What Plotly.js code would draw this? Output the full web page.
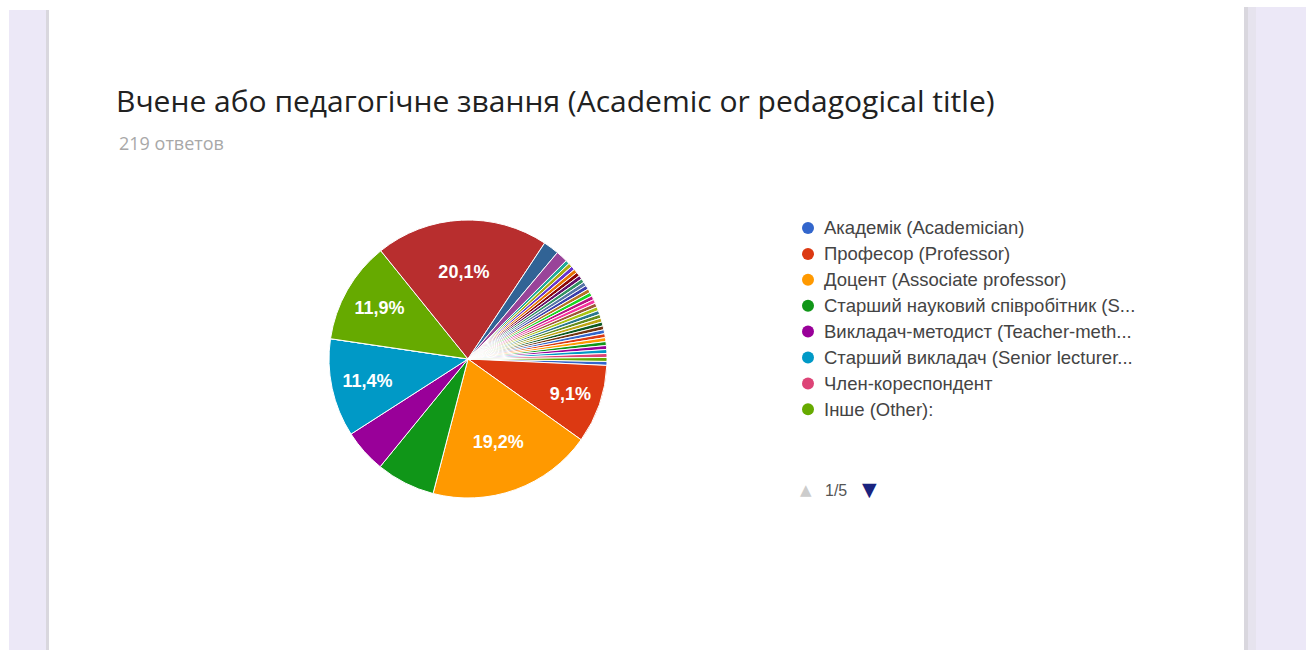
<!DOCTYPE html>
<html>
<head>
<meta charset="utf-8">
<script src="https://cdn.plot.ly/plotly-3.0.1.min.js"></script>
<style>
  html, body { margin: 0; padding: 0; background: #ffffff; }
  #chart { width: 1306px; height: 650px; }
</style>
</head>
<body>
<div id="chart"></div>
<script>
// ---------- DATA ----------
const chartTitle = "Вчене або педагогічне звання (Academic or pedagogical title)";
const responsesText = "219 ответов";

const categories = [
  "Академік (Academician)",
  "Професор (Professor)",
  "Доцент (Associate professor)",
  "Старший науковий співробітник (Senior researcher)",
  "Викладач-методист (Teacher-methodist)",
  "Старший викладач (Senior lecturer)",
  "Член-кореспондент",
  "Інше (Other):",
  "Інша відповідь 9",
  "Інша відповідь 10",
  "Інша відповідь 11",
  "Інша відповідь 12",
  "Інша відповідь 13",
  "Інша відповідь 14",
  "Інша відповідь 15",
  "Інша відповідь 16",
  "Інша відповідь 17",
  "Інша відповідь 18",
  "Інша відповідь 19",
  "Інша відповідь 20",
  "Інша відповідь 21",
  "Інша відповідь 22",
  "Інша відповідь 23",
  "Інша відповідь 24",
  "Інша відповідь 25",
  "Інша відповідь 26",
  "Інша відповідь 27",
  "Інша відповідь 28",
  "Інша відповідь 29",
  "Інша відповідь 30",
  "Інша відповідь 31",
  "Інша відповідь 32",
  "Інша відповідь 33",
  "Інша відповідь 34",
  "Інша відповідь 35",
  "Інша відповідь 36",
  "Інша відповідь 37",
  "Інша відповідь 38",
  "Інша відповідь 39"
];

const counts = [
  1, 20, 42, 15, 11, 25, 0, 26,
  44, 4, 3,
  1, 1, 1, 1, 1, 1, 1, 1, 1, 1,
  1, 1, 1, 1, 1, 1, 1, 1, 1, 1,
  1, 1, 1, 1, 1, 1, 1, 1
];

const sliceColors = [
  "#3366cc", "#dc3912", "#ff9900", "#109618", "#990099", "#0099c6", "#dd4477", "#66aa00",
  "#b82e2e", "#316395", "#994499", "#22aa99", "#aaaa11", "#6633cc", "#e67300", "#8b0707",
  "#651067", "#329262", "#5574a6", "#3b3eac", "#b77322", "#16d620", "#b91383", "#f4359e",
  "#9c5935", "#a9c413", "#2a778d", "#668d1c", "#bea413", "#0c5922", "#743411",
  "#3366cc", "#dc3912", "#ff9900", "#109618", "#990099", "#0099c6", "#dd4477", "#66aa00"
];

// legend (first page, truncated as displayed)
const legendLabels = [
  "Академік (Academician)",
  "Професор (Professor)",
  "Доцент (Associate professor)",
  "Старший науковий співробітник (S...",
  "Викладач-методист (Teacher-meth...",
  "Старший викладач (Senior lecturer...",
  "Член-кореспондент",
  "Інше (Other):"
];
const pagerText = "1/5";

// ---------- LAYOUT ----------
const W = 1306, H = 650;
const px = x => x / W;
const py = y => 1 - y / H;

const total = counts.reduce((a, b) => a + b, 0);
const templates = counts.map(v => (v / total >= 0.08 ? "%{percent:.1%}" : ""));

const cx = 468, cy = 359, r = 139;

const trace = {
  type: "pie",
  labels: categories,
  values: counts,
  sort: false,
  direction: "clockwise",
  rotation: 91,
  marker: { colors: sliceColors, line: { color: "#ffffff", width: 1 } },
  texttemplate: templates,
  textinfo: "text",
  textposition: "inside",
  insidetextorientation: "horizontal",
  textfont: { family: "Arial, Liberation Sans, sans-serif", size: 18, color: "#ffffff", weight: "bold" },
  hoverinfo: "label+value+percent",
  showlegend: false,
  domain: { x: [px(cx - r), px(cx + r)], y: [py(cy + r), py(cy - r)] }
};

const shapes = [
  // page background bands
  { type: "rect", xref: "paper", yref: "paper", x0: px(9), x1: px(47), y0: 0, y1: py(10), fillcolor: "#ece8f7", line: { width: 0 }, layer: "below" },
  { type: "rect", xref: "paper", yref: "paper", x0: px(46), x1: px(49), y0: 0, y1: py(10), fillcolor: "#d9d7de", line: { width: 0 }, layer: "below" },
  { type: "rect", xref: "paper", yref: "paper", x0: px(1250), x1: 1, y0: 0, y1: py(7), fillcolor: "#ece8f7", line: { width: 0 }, layer: "below" },
  { type: "rect", xref: "paper", yref: "paper", x0: px(1244), x1: px(1248), y0: 0, y1: py(7), fillcolor: "#d9d7de", line: { width: 0 }, layer: "below" },
  { type: "rect", xref: "paper", yref: "paper", x0: px(1248), x1: px(1256), y0: 0, y1: py(7), fillcolor: "#e6e3ee", line: { width: 0 }, layer: "below" }
];

const annotations = [
  { text: responsesText, xref: "paper", yref: "paper", x: px(117), y: py(143), xanchor: "left", yanchor: "middle",
    showarrow: false, font: { family: "Open Sans, Arial, sans-serif", size: 18, color: "#a8a8a8" } }
];

const legendX = 808, legendY0 = 228, legendStep = 25.9;
legendLabels.forEach((lab, i) => {
  const y = legendY0 + i * legendStep;
  shapes.push({ type: "circle", xref: "paper", yref: "paper", xsizemode: "pixel", ysizemode: "pixel",
    xanchor: px(legendX), yanchor: py(y), x0: -6, x1: 6, y0: -6, y1: 6,
    fillcolor: sliceColors[i], line: { width: 0 } });
  annotations.push({ text: lab, xref: "paper", yref: "paper", x: px(legendX + 14), y: py(y),
    xanchor: "left", yanchor: "middle", showarrow: false,
    font: { family: "Arial, Liberation Sans, sans-serif", size: 18.5, color: "#444444" } });
});

annotations.push(
  { text: "▲", xref: "paper", yref: "paper", x: px(806), y: py(490), xanchor: "center", yanchor: "middle",
    showarrow: false, font: { family: "DejaVu Sans, sans-serif", size: 15, color: "#cccccc" } },
  { text: pagerText, xref: "paper", yref: "paper", x: px(823), y: py(490), xanchor: "left", yanchor: "middle",
    showarrow: false, font: { family: "Arial, Liberation Sans, sans-serif", size: 16, color: "#555555" } },
  { text: "▼", xref: "paper", yref: "paper", x: px(869), y: py(489), xanchor: "center", yanchor: "middle",
    showarrow: false, font: { family: "DejaVu Sans, sans-serif", size: 19, color: "#1a237e" } }
);

const layout = {
  width: W, height: H,
  margin: { l: 0, r: 0, t: 0, b: 0 },
  paper_bgcolor: "#ffffff",
  separators: ", ",
  title: {
    text: chartTitle,
    x: px(116), xanchor: "left", xref: "paper",
    y: py(101), yanchor: "middle", yref: "paper",
    font: { family: "Open Sans, Roboto, Arial, sans-serif", size: 30, color: "#212121" }
  },
  shapes: shapes,
  annotations: annotations
};

Plotly.newPlot("chart", [trace], layout, { displayModeBar: false, staticPlot: false });
</script>
</body>
</html>
